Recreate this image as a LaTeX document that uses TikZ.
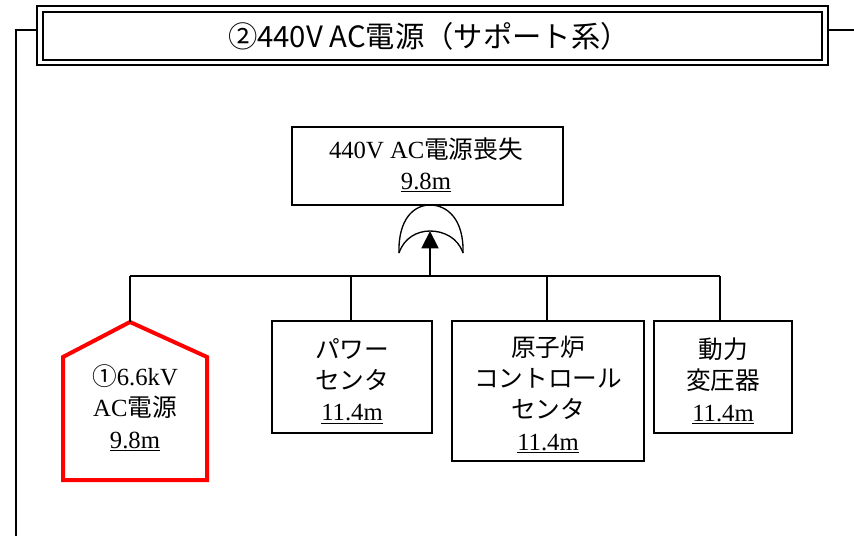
\documentclass[tikz,border=0pt]{standalone}
\usepackage{fontspec}
\setmainfont{Liberation Serif}
\newfontfamily\jp{Noto Sans CJK JP}
\usetikzlibrary{arrows.meta}
\begin{document}
\begin{tikzpicture}[x=0.75pt, y=-0.75pt,
    box/.style={draw, line width=1pt, inner sep=0pt},
    lbl/.style={align=center, font=\fontsize{18.5}{23.5}\selectfont},
    wire/.style={line width=1pt}]
    \useasboundingbox (0,0) rectangle (854,536);

    % Title frame (double border)
    \draw[line width=1.5pt] (37,6) rectangle (828,65);
    \draw[line width=2.2pt] (43,12) rectangle (822,60);
    \node (title) at (429,36) {\jp\fontsize{22}{24}\selectfont ②440V AC電源（サポート系）};
    \coordinate (tl) at (37,30);
    \coordinate (tr) at (828,30);
    \draw[wire] (tl) -- (16,30) -- (16,536);
    \draw[wire] (tr) -- (854,30);

    % Top event
    \draw[box] (292,127) rectangle (563,205);
    \node[lbl] (top) at (426,165) {440V AC{\jp 電源喪失}\\\underline{9.8m}};

    % OR gate (apex touches the box)
    \coordinate (gtop) at (430,205);
    \coordinate (gin) at (430,231);
    \draw[line width=1pt] (399,253) .. controls (398,219) and (414,205) .. (gtop)
        .. controls (447,205) and (464,219) .. (463,253);
    \draw[line width=1pt] (399,253) .. controls (404,238) and (417,231) .. (gin)
        .. controls (444,231) and (458,238) .. (463,253);

    % Bus
    \coordinate (bl) at (130,276);
    \coordinate (br) at (720,276);
    \coordinate (bg) at (430,276);
    \draw[wire] (bl) -- (br);
    \draw[line width=2.2pt, -{Triangle[length=13pt, width=12.5pt]}] (bg) -- (gin);

    % House event (red)
    \draw[red, line width=3pt, line join=miter] (63,480) -- (63,357) -- (130,322) -- (207,357) -- (207,480) -- cycle;
    \coordinate (house) at (130,322);
    \node[lbl] (ac66) at (135,408) {{\jp ①}6.6kV\\AC{\jp 電源}\\\underline{9.8m}};

    % Basic boxes
    \draw[box] (272,321) rectangle (432,433);
    \node[lbl] (pc) at (352,381) {{\jp パワー}\\{\jp センタ}\\\underline{11.4m}};
    \draw[box] (452,321) rectangle (644,461);
    \node[lbl] (rcc) at (548,394.5) {{\jp 原子炉}\\{\jp コントロール}\\{\jp センタ}\\\underline{11.4m}};
    \draw[box] (654,321) rectangle (792,433);
    \node[lbl] (tr1) at (723,381) {{\jp 動力}\\{\jp 変圧器}\\\underline{11.4m}};

    % Drops
    \coordinate (d1) at (351,276);
    \coordinate (d2) at (547,276);
    \draw[wire] (bl) -- (house);
    \draw[wire] (d1) -- (351,321);
    \draw[wire] (d2) -- (547,321);
    \draw[wire] (br) -- (720,321);
\end{tikzpicture}
\end{document}
